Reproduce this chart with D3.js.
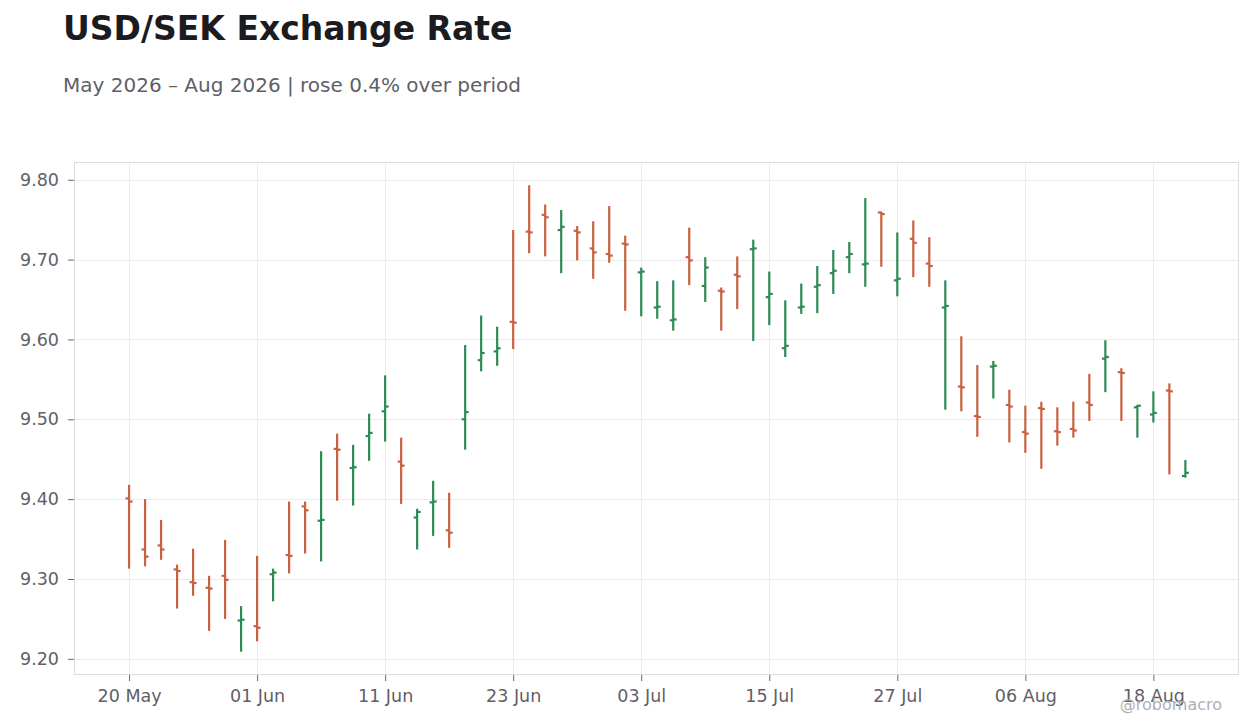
<!DOCTYPE html>
<html>
<head>
<meta charset="utf-8">
<script src="https://cdn.jsdelivr.net/npm/d3@7"></script>
<style>
  html, body { margin: 0; padding: 0; background: #fff; }
  svg { display: block; font-family: "DejaVu Sans", sans-serif; }
</style>
</head>
<body>
<svg id="chart" width="1260" height="728"></svg>
<script>
(function() {
'use strict';

var dates = [
    '2026-05-20', '2026-05-21', '2026-05-22', '2026-05-25', '2026-05-26', '2026-05-27', '2026-05-28', '2026-05-29',
    '2026-06-01', '2026-06-02', '2026-06-03', '2026-06-04', '2026-06-05', '2026-06-08', '2026-06-09', '2026-06-10',
    '2026-06-11', '2026-06-12', '2026-06-15', '2026-06-16', '2026-06-17', '2026-06-18', '2026-06-19', '2026-06-22',
    '2026-06-23', '2026-06-24', '2026-06-25', '2026-06-26', '2026-06-29', '2026-06-30',
    '2026-07-01', '2026-07-02', '2026-07-03', '2026-07-06', '2026-07-07', '2026-07-08', '2026-07-09', '2026-07-10',
    '2026-07-13', '2026-07-14', '2026-07-15', '2026-07-16', '2026-07-17', '2026-07-20', '2026-07-21', '2026-07-22',
    '2026-07-23', '2026-07-24', '2026-07-27', '2026-07-28', '2026-07-29', '2026-07-30', '2026-07-31',
    '2026-08-03', '2026-08-04', '2026-08-05', '2026-08-06', '2026-08-07', '2026-08-10', '2026-08-11', '2026-08-12',
    '2026-08-13', '2026-08-14', '2026-08-17', '2026-08-18', '2026-08-19', '2026-08-20'
];

var open = [
    9.401, 9.337, 9.342, 9.312, 9.296, 9.289, 9.304, 9.248, 9.241, 9.306,
    9.330, 9.391, 9.373, 9.463, 9.439, 9.479, 9.510, 9.447, 9.377, 9.396,
    9.361, 9.500, 9.574, 9.585, 9.622, 9.735, 9.756, 9.737, 9.736, 9.714,
    9.707, 9.720, 9.684, 9.640, 9.624, 9.703, 9.667, 9.661, 9.681, 9.713,
    9.653, 9.589, 9.640, 9.666, 9.683, 9.703, 9.694, 9.759, 9.674, 9.726,
    9.695, 9.640, 9.541, 9.504, 9.566, 9.518, 9.484, 9.514, 9.485, 9.488,
    9.521, 9.576, 9.559, 9.515, 9.506, 9.536, 9.429
];
var high = [
    9.418, 9.400, 9.374, 9.318, 9.338, 9.304, 9.349, 9.266, 9.329, 9.313,
    9.397, 9.397, 9.460, 9.482, 9.468, 9.507, 9.555, 9.477, 9.388, 9.423,
    9.408, 9.593, 9.630, 9.616, 9.737, 9.793, 9.769, 9.762, 9.742, 9.748,
    9.767, 9.730, 9.690, 9.673, 9.674, 9.740, 9.703, 9.665, 9.704, 9.725,
    9.685, 9.649, 9.670, 9.692, 9.712, 9.722, 9.777, 9.760, 9.734, 9.749,
    9.728, 9.674, 9.604, 9.568, 9.573, 9.537, 9.517, 9.522, 9.515, 9.522,
    9.557, 9.599, 9.564, 9.518, 9.535, 9.545, 9.449
];
var low = [
    9.313, 9.316, 9.324, 9.263, 9.279, 9.235, 9.250, 9.209, 9.222, 9.272,
    9.307, 9.332, 9.322, 9.398, 9.392, 9.448, 9.472, 9.394, 9.337, 9.354,
    9.339, 9.462, 9.560, 9.567, 9.588, 9.708, 9.704, 9.683, 9.699, 9.676,
    9.696, 9.636, 9.629, 9.626, 9.611, 9.668, 9.647, 9.611, 9.638, 9.598,
    9.618, 9.578, 9.632, 9.633, 9.657, 9.683, 9.666, 9.691, 9.654, 9.678,
    9.666, 9.512, 9.510, 9.478, 9.526, 9.471, 9.458, 9.438, 9.467, 9.477,
    9.498, 9.534, 9.498, 9.477, 9.496, 9.431, 9.427
];
var close = [
    9.397, 9.328, 9.337, 9.310, 9.295, 9.288, 9.299, 9.249, 9.239, 9.308,
    9.329, 9.386, 9.374, 9.462, 9.440, 9.483, 9.516, 9.442, 9.384, 9.397,
    9.358, 9.509, 9.583, 9.589, 9.621, 9.734, 9.753, 9.741, 9.734, 9.709,
    9.705, 9.719, 9.685, 9.641, 9.625, 9.699, 9.690, 9.660, 9.679, 9.714,
    9.657, 9.592, 9.641, 9.668, 9.686, 9.707, 9.695, 9.757, 9.676, 9.721,
    9.692, 9.642, 9.540, 9.503, 9.567, 9.516, 9.482, 9.513, 9.484, 9.486,
    9.518, 9.578, 9.558, 9.517, 9.508, 9.535, 9.433
];

var yTicks = [9.2, 9.3, 9.4, 9.5, 9.6, 9.7, 9.8];
var xTickEvery = 8;

var upColor = '#2e8a55';
var downColor = '#c8613f';

var svg = d3.select('#chart');
var left = 74, right = 1239, top = 162, bottom = 675;

var parse = d3.timeParse('%Y-%m-%d');
var fmt = d3.timeFormat('%d %b');

var rows = dates.map(function(d, i) {
    return { i: i, date: parse(d), o: open[i], h: high[i], l: low[i], c: close[i] };
});

var x = d3.scaleLinear()
    .domain([-3.44, rows.length - 1 + 3.35])
    .range([left, right]);

var lo = d3.min(low), hi = d3.max(high);
var span = hi - lo;
var y = d3.scaleLinear()
    .domain([lo - span * 0.05, hi + span * 0.05])
    .range([bottom, top]);

// title
svg.append('text')
    .attr('x', 63).attr('y', 40)
    .attr('font-size', 33).attr('font-weight', 'bold')
    .attr('fill', '#1b1b20')
    .text('USD/SEK Exchange Rate');

var first = rows[0].c, last = rows[rows.length - 1].c;
var chg = (last - first) / first * 100;
svg.append('text')
    .attr('x', 63).attr('y', 92)
    .attr('font-size', 20)
    .attr('fill', '#5f6068')
    .text('May 2026 \u2013 Aug 2026 | ' + (chg >= 0 ? 'rose ' : 'fell ') + Math.abs(chg).toFixed(1) + '% over period');

// plot background
svg.append('rect')
    .attr('x', left).attr('y', top)
    .attr('width', right - left).attr('height', bottom - top)
    .attr('fill', '#fff');

var xTickIdx = rows.filter(function(r) { return r.i % xTickEvery === 0; }).map(function(r) { return r.i; });

// grid
svg.append('g').selectAll('line')
    .data(yTicks).enter().append('line')
    .attr('x1', left).attr('x2', right)
    .attr('y1', function(d) { return Math.round(y(d)) + 0.5; })
    .attr('y2', function(d) { return Math.round(y(d)) + 0.5; })
    .attr('stroke', '#ececec').attr('stroke-width', 1);

svg.append('g').selectAll('line')
    .data(xTickIdx).enter().append('line')
    .attr('y1', top).attr('y2', bottom)
    .attr('x1', function(d) { return Math.round(x(d)) + 0.5; })
    .attr('x2', function(d) { return Math.round(x(d)) + 0.5; })
    .attr('stroke', '#ececec').attr('stroke-width', 1);

// frame
svg.append('rect')
    .attr('x', left + 0.5).attr('y', top + 0.5)
    .attr('width', right - left - 1).attr('height', bottom - top - 1)
    .attr('fill', 'none').attr('stroke', '#dddddd');

// axes
var yAxis = d3.axisLeft(y)
    .tickValues(yTicks)
    .tickFormat(d3.format('.2f'))
    .tickSize(6).tickPadding(9);
var yg = svg.append('g')
    .attr('transform', 'translate(' + left + ',0)')
    .call(yAxis);

var xAxis = d3.axisBottom(x)
    .tickValues(xTickIdx)
    .tickFormat(function(i) { return fmt(rows[i].date); })
    .tickSize(6).tickPadding(9);
var xg = svg.append('g')
    .attr('transform', 'translate(0,' + bottom + ')')
    .call(xAxis);

[yg, xg].forEach(function(g) {
    g.select('.domain').remove();
    g.selectAll('.tick line').attr('stroke', '#666a70');
    g.selectAll('.tick text')
        .attr('fill', '#5f6068')
        .attr('font-size', 17.5)
        .attr('font-family', '"DejaVu Sans", sans-serif');
});

// ohlc bars
var bars = svg.append('g').selectAll('g')
    .data(rows).enter().append('g')
    .attr('stroke', function(d) { return d.c >= d.o ? upColor : downColor; })
    .attr('stroke-width', 2.2);

bars.append('line')
    .attr('x1', function(d) { return x(d.i); })
    .attr('x2', function(d) { return x(d.i); })
    .attr('y1', function(d) { return y(d.h); })
    .attr('y2', function(d) { return y(d.l); });

bars.append('line')
    .attr('x1', function(d) { return x(d.i) - 3.5; })
    .attr('x2', function(d) { return x(d.i); })
    .attr('y1', function(d) { return y(d.o); })
    .attr('y2', function(d) { return y(d.o); });

bars.append('line')
    .attr('x1', function(d) { return x(d.i); })
    .attr('x2', function(d) { return x(d.i) + 3.5; })
    .attr('y1', function(d) { return y(d.c); })
    .attr('y2', function(d) { return y(d.c); });

// watermark
svg.append('text')
    .attr('x', 1222).attr('y', 710)
    .attr('text-anchor', 'end')
    .attr('font-size', 16)
    .attr('fill', '#aeb0b6')
    .text('@robomacro');

})();
</script>
</body>
</html>
